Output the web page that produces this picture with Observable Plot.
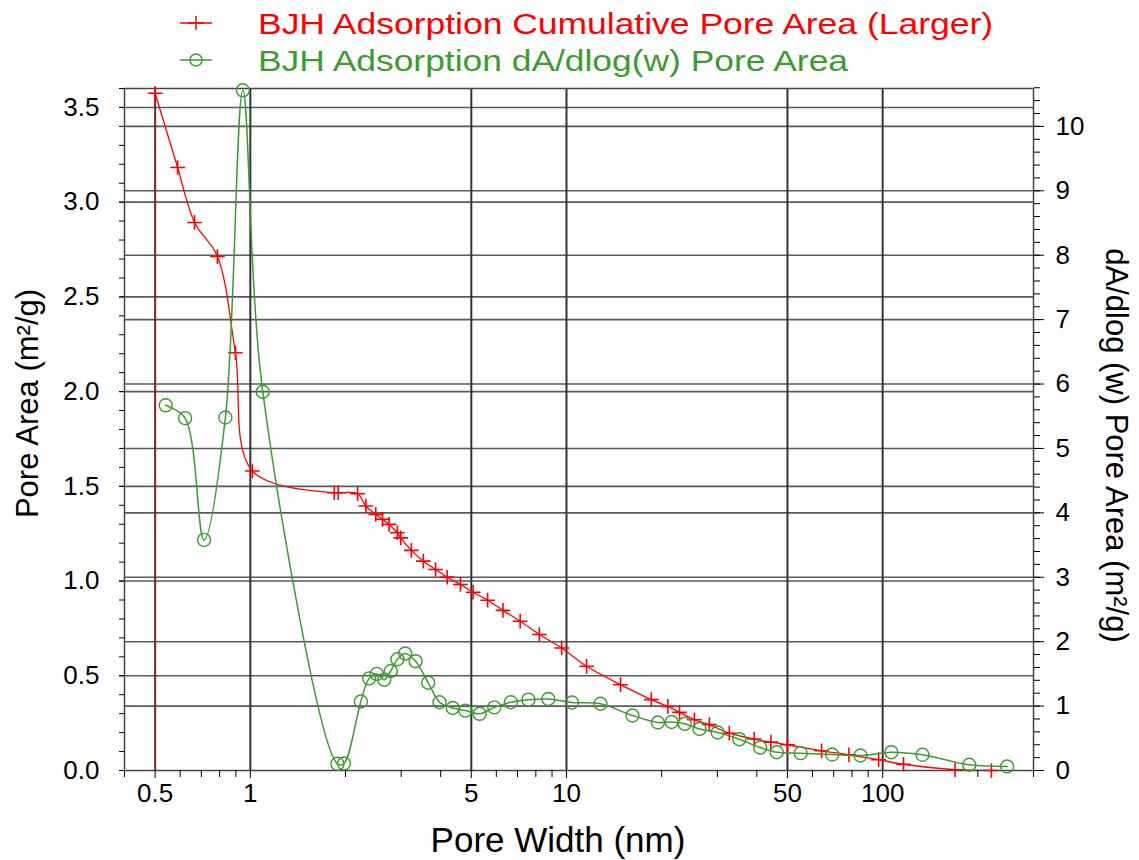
<!DOCTYPE html>
<html><head><meta charset="utf-8">
<script src="https://cdn.jsdelivr.net/npm/d3@7"></script>
<script src="https://cdn.jsdelivr.net/npm/@observablehq/plot@0.6"></script>
<style>
body{margin:0;background:#fff;width:1139px;height:860px;overflow:hidden;font-family:"Liberation Sans",Arial,sans-serif}
#legend{display:block}
#chart svg{display:block}
</style>
</head><body>
<svg id="legend" width="1139" height="80" xmlns="http://www.w3.org/2000/svg">
  <g stroke="#ff0000" stroke-width="1.5" fill="none">
    <line x1="180" y1="23" x2="212" y2="23"/>
    <line x1="188" y1="23" x2="204" y2="23"/>
    <line x1="196" y1="16" x2="196" y2="30"/>
  </g>
  <text x="258" y="34" fill="#ff0000" font-size="30" textLength="735" lengthAdjust="spacingAndGlyphs">BJH Adsorption Cumulative Pore Area (Larger)</text>
  <g stroke="#3c9a32" stroke-width="1.5" fill="none">
    <line x1="180" y1="60" x2="212" y2="60"/>
    <circle cx="196" cy="60" r="6"/>
  </g>
  <text x="258" y="71" fill="#3c9a32" font-size="30" textLength="590" lengthAdjust="spacingAndGlyphs">BJH Adsorption dA/dlog(w) Pore Area</text>
</svg>
<div id="chart"></div>
<script>
// Cumulative pore area (left axis, m²/g)
const redWidth = [0.5, 0.589, 0.666, 0.787, 0.897, 1.015, 1.843, 1.897, 2.184, 2.32, 2.494, 2.618, 2.747, 2.919, 2.99, 3.231, 3.525, 3.854, 4.195, 4.619, 5.066, 5.631, 6.297, 7.137, 8.209, 9.658, 11.58, 14.82, 18.55, 20.92, 22.78, 25.39, 28.31, 32.73, 39.25, 44.3, 49.95, 64.1, 78.2, 97.1, 116.4, 169.4, 220.8];
const redArea = [3.575, 3.183, 2.893, 2.713, 2.205, 1.581, 1.466, 1.466, 1.461, 1.396, 1.352, 1.326, 1.299, 1.255, 1.228, 1.162, 1.105, 1.061, 1.021, 0.982, 0.941, 0.899, 0.845, 0.788, 0.718, 0.647, 0.55, 0.453, 0.374, 0.338, 0.307, 0.268, 0.242, 0.197, 0.166, 0.15, 0.136, 0.104, 0.083, 0.057, 0.033, 0.004, 0.0];
// dA/dlog(w) pore area (right axis, m²/g)
const greenWidth = [0.54, 0.622, 0.714, 0.834, 0.947, 1.095, 1.886, 1.977, 2.237, 2.376, 2.512, 2.652, 2.781, 2.919, 3.089, 3.333, 3.654, 3.967, 4.368, 4.789, 5.313, 5.912, 6.673, 7.58, 8.76, 10.41, 12.81, 16.17, 19.46, 21.49, 23.67, 26.34, 30.07, 35.2, 40.99, 46.26, 55.06, 69.23, 85.08, 106.5, 133.7, 187.9, 247.6];
const greenDA = [5.67, 5.47, 3.58, 5.48, 10.56, 5.88, 0.104, 0.109, 1.071, 1.43, 1.50, 1.41, 1.545, 1.727, 1.817, 1.697, 1.362, 1.06, 0.97, 0.93, 0.88, 0.98, 1.06, 1.10, 1.11, 1.056, 1.036, 0.854, 0.745, 0.753, 0.725, 0.644, 0.59, 0.486, 0.357, 0.284, 0.269, 0.248, 0.233, 0.284, 0.244, 0.089, 0.062];

const xMajorTicks = [0.5, 1, 5, 10, 50, 100];
const xTickLabels = ["0.5", "1", "5", "10", "50", "100"];
const xMinorTicks = [0.4, 0.6, 0.7, 0.8, 0.9, 2, 3, 4, 6, 7, 8, 9, 20, 30, 40, 60, 70, 80, 90, 200, 300];
const leftMajorTicks = [0, 0.5, 1, 1.5, 2, 2.5, 3, 3.5];
const rightMajorTicks = [0, 1, 2, 3, 4, 5, 6, 7, 8, 9, 10];

const K = 0.34; // right-axis units -> left-axis units
const leftMinorTicks = d3.range(0, 3.61, 0.1);
const rightMinorTicks = d3.range(0, 10.61, 0.2).map(d => d * K);

const red = redWidth.map((w, i) => ({w, v: redArea[i]}));
const green = greenWidth.map((w, i) => ({w, v: greenDA[i] * K}));
const xLabels = xMajorTicks.map((w, i) => ({w, label: xTickLabels[i]}));
const RED = "#ff0000", GREEN = "#3c9a32", GRID = "#5a5a5a";

const chart = Plot.plot({
  width: 1139, height: 780,
  marginLeft: 124, marginRight: 106, marginTop: 8, marginBottom: 90,
  x: {type: "log", domain: [0.4, 300]},
  y: {domain: [0, 3.6]},
  style: {fontFamily: "'Liberation Sans', Arial, sans-serif", fontSize: "26px", color: "#000", background: "#fff", overflow: "visible"},
  marks: [
    Plot.ruleY(leftMajorTicks.filter(d => d > 0), {stroke: GRID, strokeWidth: 1.6}),
    Plot.ruleY(rightMajorTicks.filter(d => d > 0).map(d => d * K), {stroke: GRID, strokeWidth: 1.6}),
    Plot.ruleX([1, 5, 10, 50, 100], {stroke: "#333", strokeWidth: 2}),
    Plot.ruleX([0.5], {stroke: "#7a2222", strokeWidth: 2}),
    Plot.frame({stroke: "#444", strokeWidth: 1.5}),
    Plot.axisX(xMajorTicks, {tickFormat: () => "", tickSize: 8, label: null}),
    Plot.axisX(xMinorTicks, {tickFormat: () => "", tickSize: 7, label: null}),
    Plot.text(xLabels, {x: "w", text: "label", frameAnchor: "bottom", dy: 31, fontSize: 26, fill: "#000"}),
    Plot.axisY(leftMajorTicks, {anchor: "left", tickFormat: d => d.toFixed(1), tickSize: 5, tickPadding: 20, label: null, fontSize: 26}),
    Plot.axisY(leftMinorTicks, {anchor: "left", tickFormat: () => "", tickSize: 5, label: null}),
    Plot.axisY(rightMajorTicks.map(d => d * K), {anchor: "right", tickFormat: d => String(Math.round(d / K)), tickSize: 10, tickPadding: 12, label: null, fontSize: 26}),
    Plot.axisY(rightMinorTicks, {anchor: "right", tickFormat: () => "", tickSize: 6, label: null}),
    Plot.line(red, {x: "w", y: "v", stroke: RED, strokeWidth: 1.3, curve: "catmull-rom", clip: true}),
    Plot.dot(red, {x: "w", y: "v", symbol: "plus", stroke: RED, strokeWidth: 1.6, r: 4.8}),
    Plot.line(green, {x: "w", y: "v", stroke: GREEN, strokeWidth: 1.5, curve: "catmull-rom", clip: true}),
    Plot.dot(green, {x: "w", y: "v", symbol: "circle", fill: "none", stroke: GREEN, strokeWidth: 1.4, r: 6.5}),
    Plot.text(["Pore Area (m²/g)"], {frameAnchor: "left", textAnchor: "middle", dx: -96, dy: -26, rotate: -90, fontSize: 31, fill: "#000"}),
    Plot.text(["dA/dlog (w) Pore Area (m²/g)"], {frameAnchor: "right", textAnchor: "middle", dx: 82, dy: 16, rotate: 90, fontSize: 31, fill: "#000"}),
    Plot.text(["Pore Width (nm)"], {frameAnchor: "bottom", textAnchor: "middle", dx: -21, dy: 81, fontSize: 35, fill: "#000"})
  ]
});
document.getElementById("chart").appendChild(chart);
</script>
</body></html>
